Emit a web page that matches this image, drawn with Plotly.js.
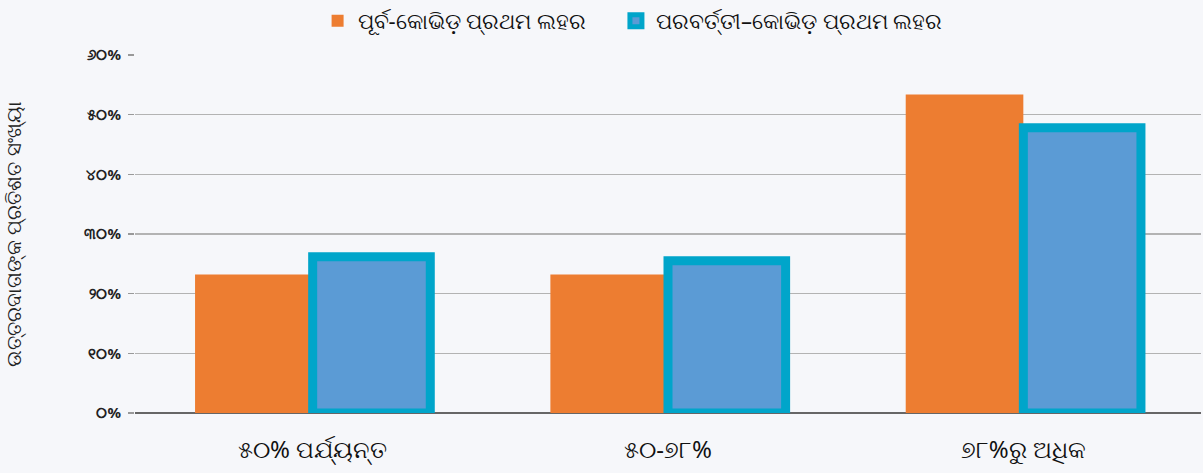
<!DOCTYPE html>
<html>
<head>
<meta charset="utf-8">
<script src="https://cdn.plot.ly/plotly-3.0.1.min.js"></script>
<style>html,body{margin:0;padding:0;background:#f6f7fa;}#chart{width:1203px;height:473px;}</style>
</head>
<body>
<div id="chart"></div>
<script>
const categories = ["୫୦% ପର୍ଯ୍ୟନ୍ତ", "୫୦-୭୮%", "୭୮%ରୁ ଅଧିକ"];
const seriesNames = ["ପୂର୍ବ-କୋଭିଡ଼ ପ୍ରଥମ ଲହର", "ପରବର୍ତ୍ତୀ–କୋଭିଡ଼ ପ୍ରଥମ ଲହର"];
const preCovid = [23.2, 23.2, 53.4];
const postCovid = [26.2, 25.5, 47.8];
const tickVals = [0, 10, 20, 30, 40, 50, 60];
const tickLabels = ["୦%", "୧୦%", "୨୦%", "୩୦%", "୪୦%", "୫୦%", "୬୦%"];
const yTitle = "ଉତ୍ତରଦାତାଙ୍କ ପ୍ରତିଶତ ସଂଖ୍ୟା";

const font = "Noto Sans, DejaVu Sans, sans-serif";
const data = [
  {type: "bar", name: seriesNames[0], x: categories, y: preCovid, legend: "legend",
   marker: {color: "#ED7D31", line: {width: 0}}},
  {type: "bar", name: seriesNames[1], x: categories, y: postCovid, legend: "legend2",
   marker: {color: "#5B9BD5", line: {color: "#00A5CA", width: 9}}}
];
const legendBase = {orientation: "h", xref: "container", xanchor: "left", y: 1, yref: "container", yanchor: "top",
  font: {family: font, size: 22, color: "#111"}, itemwidth: 30, bgcolor: "rgba(0,0,0,0)"};
const layout = {
  width: 1203, height: 473,
  margin: {l: 135, r: 2, t: 55, b: 60},
  paper_bgcolor: "#f6f7fa", plot_bgcolor: "rgba(0,0,0,0)",
  barmode: "group", bargap: 0.338, bargroupgap: 0,
  showlegend: true,
  legend: Object.assign({}, legendBase, {x: 0.264}),
  legend2: Object.assign({}, legendBase, {x: 0.512}),
  xaxis: {type: "category", range: [-0.5, 2.5], showgrid: false, ticks: "", ticklabelstandoff: 20,
          tickfont: {family: font, size: 24, color: "#111"}, showline: false, zeroline: false},
  yaxis: {range: [0, 60], tickvals: tickVals, ticktext: tickLabels,
          tickfont: {family: font, size: 15, color: "#222", weight: "bold"},
          ticks: "outside", ticklen: 6, tickcolor: "#999", tickwidth: 1.5, ticklabelstandoff: 4,
          showgrid: true, gridcolor: "#b3b3b3", gridwidth: 1.5,
          zeroline: true, zerolinecolor: "#666", zerolinewidth: 2, showline: false,
          title: {text: yTitle, font: {family: font, size: 20, color: "#222"}, standoff: 62}}
};
Plotly.newPlot("chart", data, layout, {displayModeBar: false, staticPlot: true});
</script>
</body>
</html>
